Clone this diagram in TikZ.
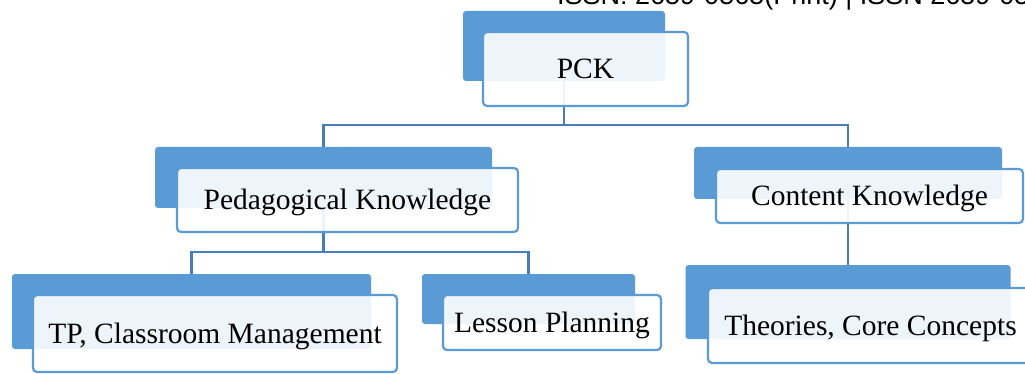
\documentclass[tikz,border=0pt]{standalone}
\usepackage{fontspec}
\setmainfont{Liberation Serif}
\newfontfamily\headfont{Liberation Sans}
\definecolor{boxblue}{HTML}{5B9BD5}
\definecolor{lineblue}{HTML}{4A7EBB}

\begin{document}
\begin{tikzpicture}[x=1pt, y=-1pt,
  back/.style={rectangle, rounded corners=3pt, fill=boxblue, inner sep=0pt},
  front/.style={rectangle, rounded corners=4pt, draw=boxblue, line width=2.2pt,
    fill=white, fill opacity=0.9, text opacity=1, inner sep=0pt,
    text height=21pt, text depth=2pt, font=\fontsize{29.5}{34}\selectfont},
  link/.style={lineblue, line width=2.3pt}]
  \clip (0,0) rectangle (1025,374);
  \useasboundingbox (0,0) rectangle (1025,374);

  % Page header
  \node[anchor=base west, inner sep=0pt, font=\headfont\fontsize{27}{30}\selectfont] (issn) at (557,5) {ISSN: 2659-0565(Print) | ISSN 2659-05};

  % Define back boxes
  \node[back, minimum width=202, minimum height=70] (pckb) at (564,46) {};
  \node[back, minimum width=337, minimum height=61] (pedb) at (323.5,177.5) {};
  \node[back, minimum width=308, minimum height=52] (contb) at (848,173) {};
  \node[back, minimum width=359, minimum height=75] (tpb) at (191.5,311.5) {};
  \node[back, minimum width=213, minimum height=50] (lessb) at (528.5,299) {};
  \node[back, minimum width=325, minimum height=74] (theob) at (848,302) {};

  % Draw connectors
  \coordinate (bar1) at (0,125);
  \coordinate (bar2) at (0,252);
  \draw[link] (pckb.south) -- (pckb.south |- bar1) -| (pedb.north);
  \draw[link] (pckb.south) -- (pckb.south |- bar1) -| (contb.north);
  \draw[link] (pedb.south) -- (pedb.south |- bar2) -| (tpb.north);
  \draw[link] (pedb.south) -- (pedb.south |- bar2) -| (lessb.north);
  \draw[link] (contb.south) -- (theob.north);

  % Define front boxes
  \node[front, minimum width=205, minimum height=74] (pck) at (585.5,69) {PCK};
  \node[front, minimum width=341, minimum height=64] (ped) at (347.5,200) {Pedagogical Knowledge};
  \node[front, minimum width=307, minimum height=54] (cont) at (869.5,196) {Content Knowledge};
  \node[front, minimum width=364, minimum height=77] (tp) at (215,333.5) {TP, Classroom Management};
  \node[front, minimum width=218, minimum height=55] (less) at (552,322.5) {Lesson Planning};
  \node[front, minimum width=325, minimum height=75] (theo) at (870.5,325.5) {Theories, Core Concepts};
\end{tikzpicture}
\end{document}
